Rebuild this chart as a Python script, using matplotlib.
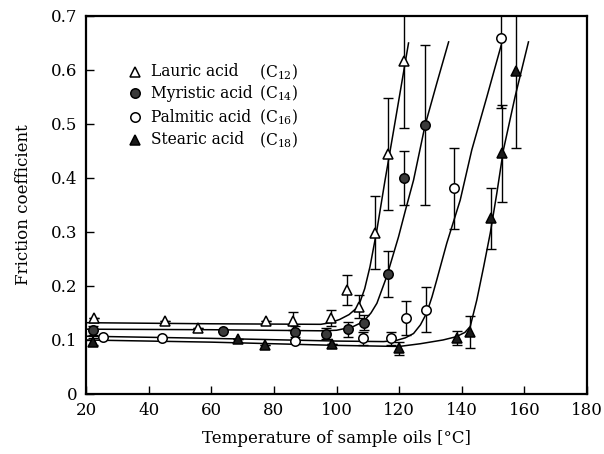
import matplotlib
matplotlib.use("Agg")
import matplotlib.pyplot as plt

plt.rcParams['font.family'] = ['DejaVu Serif']
plt.rcParams['mathtext.fontset'] = 'dejavuserif'

# ---- data ----
lau_x = [22.4, 45.2, 55.7, 77.5, 86.2, 98.3, 103.3, 107.2, 112.3, 116.6, 121.6]
lau_y = [0.140, 0.135, 0.123, 0.135, 0.135, 0.140, 0.193, 0.162, 0.299, 0.444, 0.617]
lau_e = [0.0, 0.0, 0.0, 0.0, 0.016, 0.015, 0.028, 0.022, 0.067, 0.104, 0.124]

myr_x = [22.3, 63.6, 86.8, 96.7, 103.6, 108.8, 116.4, 121.7, 128.3]
myr_y = [0.118, 0.117, 0.115, 0.112, 0.120, 0.132, 0.222, 0.400, 0.498]
myr_e = [0.008, 0.0, 0.010, 0.010, 0.014, 0.014, 0.043, 0.050, 0.148]

pal_x = [25.3, 44.4, 86.8, 108.4, 117.3, 122.1, 128.6, 137.6, 152.6]
pal_y = [0.106, 0.103, 0.098, 0.103, 0.103, 0.141, 0.156, 0.381, 0.659]
pal_e = [0.0, 0.0, 0.0, 0.012, 0.012, 0.031, 0.042, 0.075, 0.130]

ste_x = [22.3, 68.6, 77.2, 98.7, 119.8, 138.4, 142.7, 149.3, 152.8, 157.4]
ste_y = [0.097, 0.101, 0.091, 0.093, 0.085, 0.103, 0.115, 0.325, 0.446, 0.598]
ste_e = [0.006, 0.0, 0.0, 0.0, 0.012, 0.013, 0.030, 0.057, 0.090, 0.143]

# fitted curves
lau_cx = [20, 60, 95, 98, 101, 104, 107, 109, 110.7, 112.9, 115.5, 118, 120.5, 123]
lau_cy = [0.132, 0.130, 0.129, 0.132, 0.138, 0.147, 0.162, 0.195, 0.236, 0.304, 0.396, 0.480, 0.565, 0.650]

myr_cx = [20, 60, 95, 100, 105, 108.6, 111, 112.9, 116, 119.8, 122, 124.6, 128.3, 132, 135.8]
myr_cy = [0.120, 0.119, 0.117, 0.118, 0.124, 0.134, 0.150, 0.168, 0.217, 0.291, 0.340, 0.396, 0.498, 0.575, 0.652]

pal_cx = [20, 60, 100, 115, 119, 122, 124.6, 126.8, 128.8, 130.5, 132, 135.2, 139.5, 143.2, 148, 152.6]
pal_cy = [0.107, 0.103, 0.098, 0.097, 0.099, 0.104, 0.112, 0.128, 0.150, 0.180, 0.211, 0.279, 0.359, 0.452, 0.550, 0.646]

ste_cx = [20, 60, 100, 120, 126.7, 134, 138.2, 141, 142.7, 144.8, 147, 149.1, 151.2, 153.3, 157, 161.3]
ste_cy = [0.100, 0.096, 0.090, 0.088, 0.093, 0.100, 0.106, 0.114, 0.125, 0.174, 0.236, 0.298, 0.372, 0.452, 0.550, 0.652]

names = ['Lauric acid', 'Myristic acid', 'Palmitic acid', 'Stearic acid']
carbons = ['(C$_{12}$)', '(C$_{14}$)', '(C$_{16}$)', '(C$_{18}$)']

x_ticks = [20, 40, 60, 80, 100, 120, 140, 160, 180]
y_ticks = [0, 0.1, 0.2, 0.3, 0.4, 0.5, 0.6, 0.7]
y_labels = ['0', '0.1', '0.2', '0.3', '0.4', '0.5', '0.6', '0.7']

# ---- figure ----
fig = plt.figure(figsize=(6.04, 4.54), dpi=100)
ax = fig.add_axes([0.1424, 0.1322, 0.8295, 0.8326])

series = [
    (lau_x, lau_y, lau_e, lau_cx, lau_cy, '^', 'white'),
    (myr_x, myr_y, myr_e, myr_cx, myr_cy, 'o', '#3a3a3a'),
    (pal_x, pal_y, pal_e, pal_cx, pal_cy, 'o', 'white'),
    (ste_x, ste_y, ste_e, ste_cx, ste_cy, '^', '#1a1a1a'),
]

for xs, ys, es, cx, cy, mk, fc in series:
    ax.plot(cx, cy, color='black', lw=1.1, zorder=2)
    ax.errorbar(xs, ys, yerr=es, fmt='none', ecolor='black', elinewidth=1.0,
                capsize=3.5, capthick=1.0, zorder=3)
    ax.plot(xs, ys, linestyle='none', marker=mk, markersize=7.5 if mk == '^' else 6.8,
            markerfacecolor=fc, markeredgecolor='black', markeredgewidth=1.1, zorder=4)

ax.set_xlim(20, 180)
ax.set_ylim(0, 0.7)
ax.set_xticks(x_ticks)
ax.set_yticks(y_ticks)
ax.set_yticklabels(y_labels)
ax.tick_params(direction='in', length=6, width=1.0, labelsize=12, pad=6)
for sp in ax.spines.values():
    sp.set_linewidth(1.6)

ax.set_xlabel('Temperature of sample oils [°C]', fontsize=12, labelpad=8)
ax.set_ylabel('Friction coefficient', fontsize=12, labelpad=14)

# ---- legend (manual, frameless) ----
leg_y = [0.852, 0.795, 0.732, 0.672]
for i, (xs, ys, es, cx, cy, mk, fc) in enumerate(series):
    ax.plot([0.098], [leg_y[i]], transform=ax.transAxes, linestyle='none', marker=mk,
            markersize=7.5 if mk == '^' else 6.8, markerfacecolor=fc,
            markeredgecolor='black', markeredgewidth=1.1, clip_on=False)
    ax.text(0.130, leg_y[i], names[i], transform=ax.transAxes, fontsize=11.2,
            va='center', ha='left')
    ax.text(0.346, leg_y[i], carbons[i], transform=ax.transAxes, fontsize=11.2,
            va='center', ha='left')

fig.savefig('out.png', dpi=100)
